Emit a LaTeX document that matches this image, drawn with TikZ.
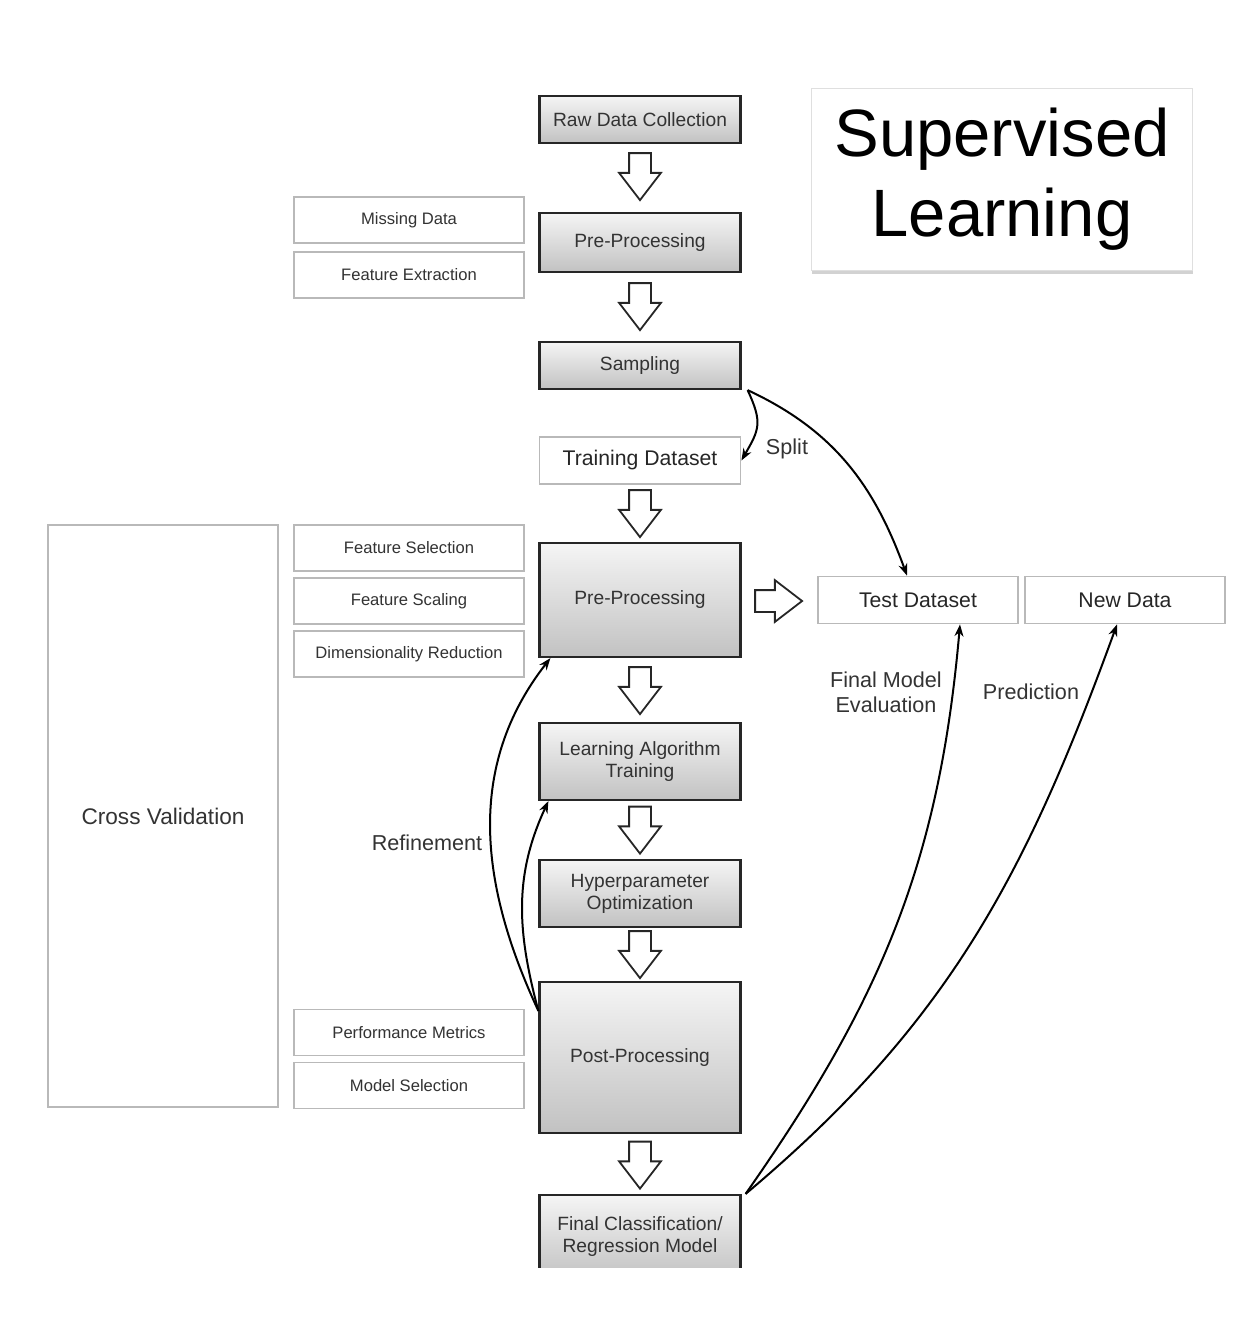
\documentclass[tikz,border=0pt]{standalone}
\usepackage{fontspec}
\setmainfont{Liberation Sans}
\usetikzlibrary{shapes.arrows,shadows,arrows.meta}

\tikzset{
 stage/.style={draw=black!85, line width=1.1pt, top color=gray!8, bottom color=gray!48, minimum width=100.5pt, align=center, text=black!80, font=\fontsize{9.6}{11}\selectfont},
 aside/.style={draw=gray!55, line width=0.9pt, fill=white, minimum width=115pt, minimum height=23pt, text=black!80, font=\fontsize{8.3}{10}\selectfont},
 plainbox/.style={draw=gray!55, line width=0.9pt, fill=white, minimum width=100pt, minimum height=23.5pt, text=black!85, font=\fontsize{10.6}{12}\selectfont},
 hollow/.style={single arrow, draw=black!85, line width=0.9pt, fill=white, inner sep=5pt, minimum height=23.5pt, single arrow head extend=5pt, single arrow tip angle=75},
 lbl/.style={text=black!80, align=center, font=\fontsize{10.8}{12.6}\selectfont},
 curve/.style={line width=1pt, -{Stealth[length=6pt,width=4.5pt]}},
}

\begin{document}
\begin{tikzpicture}[x=0.5pt,y=-0.5pt]
 \useasboundingbox (0,0) rectangle (1242,1340); %page
 % title
 \node[draw=gray!25, fill=white, minimum width=190.5pt, minimum height=91pt, align=center,
   drop shadow={shadow xshift=0pt, shadow yshift=-2pt, fill=gray!70},
   font=\fontsize{33.5}{40}\selectfont] (title) at (1002,179) {Supervised\\Learning};
 % main column
 \node[stage, minimum height=23.5pt] (raw) at (640,119.5) {Raw Data Collection};
 \node[stage, minimum height=29.5pt] (preA) at (640,242.5) {Pre-Processing};
 \node[stage, minimum height=23.5pt] (samp) at (640,365.5) {Sampling};
 \node[plainbox, minimum width=100.5pt] (train) at (640,460.5) {Training Dataset};
 \node[stage, minimum height=57pt] (preB) at (640,600) {Pre-Processing};
 \node[stage, minimum height=38.5pt] (learn) at (640,761.5) {Learning Algorithm\\Training};
 \node[stage, minimum height=33.5pt] (hyper) at (640,893.5) {Hyperparameter\\Optimization};
 \node[stage, minimum height=75.5pt] (post) at (640,1057.5) {Post-Processing};
 \begin{scope}
  \clip (0,0) rectangle (1242,1267); %cut at the bottom
  \node[stage, minimum height=42pt] (final) at (640,1237) {Final Classification/\\Regression Model};
 \end{scope}
 % hollow arrows
 \foreach \y/\n in {169.5/a, 299.5/b, 506.5/c, 683.5/d, 823/e, 947.5/f, 1158/g}
  \node[hollow, shape border rotate=270] (down\n) at (640,\y) {};
 \node[hollow] (right) at (771.5,601) {};
 % side boxes
 \node[aside] (miss) at (409,220) {Missing Data};
 \node[aside] (extr) at (409,275) {Feature Extraction};
 \node[aside] (sel) at (409,548) {Feature Selection};
 \node[aside] (scal) at (409,601) {Feature Scaling};
 \node[aside] (dim) at (409,654) {Dimensionality Reduction};
 \node[aside] (perf) at (409,1032.5) {Performance Metrics};
 \node[aside] (msel) at (409,1085.5) {Model Selection};
 \node[aside, minimum height=291pt, font=\fontsize{11.3}{13}\selectfont] (cv) at (163,816) {Cross Validation};
 % right side
 \node[plainbox] (test) at (918,600) {Test Dataset};
 \node[plainbox] (new) at (1125,600) {New Data};
 % curved arrows
 \draw[curve] ([xshift=3pt]samp.south east) to[out=-65, in=60, looseness=1.3] (train.east);
 \draw[curve] ([xshift=3pt]samp.south east) to[out=-25, in=110] ([xshift=-5.5pt]test.north);
 \draw[curve] ([yshift=-15pt]post.north west) to[out=115, in=232] ([xshift=6pt]preB.south west);
 \draw[curve] ([yshift=-15pt]post.north west) to[out=105, in=245] ([xshift=5pt]learn.south west);
 \draw[curve] ([xshift=2pt]final.north east) to[out=55, in=-95] ([xshift=21pt]test.south);
 \draw[curve] ([xshift=2pt]final.north east) to[out=40, in=-110] ([xshift=-4pt]new.south);
 % labels
 \node[lbl] (split) at (787,449) {Split};
 \node[lbl] (refine) at (427,843) {Refinement};
 \node[lbl] (evalu) at (886,692) {Final Model\\Evaluation};
 \node[lbl] (pred) at (1031,692) {Prediction};
\end{tikzpicture}
\end{document}
